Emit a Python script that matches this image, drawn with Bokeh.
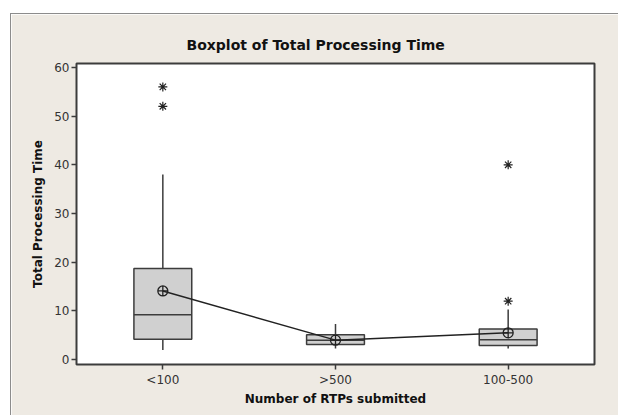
from bokeh.plotting import figure
from bokeh.models import Range1d, FixedTicker, Spacer, ColumnDataSource
from bokeh.layouts import column, row
from bokeh.embed import file_html
from bokeh.resources import INLINE

categories = ["<100", ">500", "100-500"]
q1 = [4.2, 3.1, 2.9]
median = [9.2, 4.0, 4.1]
q3 = [18.7, 5.1, 6.3]
whisker_low = [2.0, 2.3, 2.3]
whisker_high = [38.0, 7.3, 10.3]
means = [14.1, 4.0, 5.5]
outlier_cat = ["<100", "<100", "100-500", "100-500"]
outlier_val = [56.0, 52.0, 12.0, 40.0]
y_ticks = [0, 10, 20, 30, 40, 50, 60]

xs = list(range(len(categories)))
ox = [categories.index(c) for c in outlier_cat]
bw = 0.335

FONT = "DejaVu Sans"
BEIGE = "#eeeae3"
DARK = "#3c3c3c"

p = figure(width=608, height=402, output_backend="svg", toolbar_location=None,
           x_range=Range1d(-0.5, 2.5), y_range=Range1d(-1.0, 60.8),
           title="Boxplot of Total Processing Time",
           min_border_left=65, min_border_right=25, min_border_top=49, min_border_bottom=52)
p.background_fill_color = "white"
p.border_fill_color = BEIGE
p.outline_line_color = DARK
p.outline_line_width = 2
p.grid.visible = False

p.title.text_font = FONT
p.title.text_font_size = "14px"
p.title.text_font_style = "bold"
p.title.text_color = "#111111"
p.title.align = "left"
p.title.offset = 110
p.title.standoff = 22

for ax in (p.xaxis[0], p.yaxis[0]):
    ax.axis_line_color = None
    ax.major_tick_out = 5
    ax.major_tick_in = 0
    ax.minor_tick_line_color = None
    ax.major_tick_line_color = DARK
    ax.major_tick_line_width = 1.5
    ax.major_label_text_font = FONT
    ax.major_label_text_font_size = "12px"
    ax.major_label_text_color = "#333333"
    ax.axis_label_text_font = FONT
    ax.axis_label_text_font_size = "12px"
    ax.axis_label_text_font_style = "bold"
    ax.axis_label_text_color = "#111111"

p.xaxis.ticker = FixedTicker(ticks=xs)
p.xaxis.major_label_overrides = {i: c for i, c in enumerate(categories)}
p.xaxis.axis_label = "Number of RTPs submitted"
p.xaxis.major_label_standoff = 3
p.xaxis.axis_label_standoff = 2

p.yaxis.ticker = FixedTicker(ticks=y_ticks)
p.yaxis.axis_label = "Total Processing Time"
p.yaxis.major_label_standoff = 2
p.yaxis.axis_label_standoff = 6

src = ColumnDataSource(dict(x=xs, q1=q1, med=median, q3=q3, lo=whisker_low, hi=whisker_high,
                            mean=means, left=[x - bw / 2 for x in xs], right=[x + bw / 2 for x in xs]))

p.segment(x0="x", y0="q3", x1="x", y1="hi", source=src, line_color=DARK, line_width=1.5)
p.segment(x0="x", y0="q1", x1="x", y1="lo", source=src, line_color=DARK, line_width=1.5)
p.quad(left="left", right="right", bottom="q1", top="q3", source=src,
       fill_color="#d0d0d0", line_color=DARK, line_width=1.5)
p.segment(x0="left", y0="med", x1="right", y1="med", source=src, line_color=DARK, line_width=1.5)

p.line(x="x", y="mean", source=src, line_color="#222222", line_width=1.5)
p.scatter(x="x", y="mean", source=src, marker="circle_cross", size=10,
          fill_color=None, line_color="#222222", line_width=1.3)

p.scatter(x=ox, y=outlier_val, marker="asterisk", size=9, line_color="#222222", line_width=1.2)

p.styles = {"border-top": "1px solid #8c8c8c", "border-left": "1px solid #8c8c8c"}

layout = column(Spacer(height=13), row(Spacer(width=10), p))
open("out.html", "w").write(file_html(layout, INLINE))
